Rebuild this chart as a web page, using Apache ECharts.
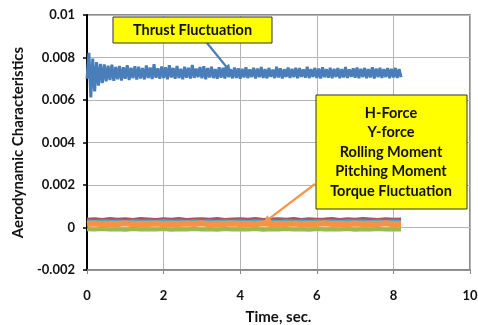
<!DOCTYPE html>
<html>
<head>
<meta charset="utf-8">
<script src="https://cdn.jsdelivr.net/npm/echarts@6/dist/echarts.min.js"></script>
<style>
  html, body { margin: 0; padding: 0; background: #fff; }
  #chart { width: 478px; height: 325px; }
</style>
</head>
<body>
<div id="chart"></div>
<script>
// x ticks / y ticks
const xTicks = [0, 2, 4, 6, 8, 10];
const yTicks = [-0.002, 0, 0.002, 0.004, 0.006, 0.008, 0.01];

const thrustStep = 0.05;
const lowStep = 0.2;

// values, in units of 1e-5
const thrust = [
  700, 822, 612, 795, 640, 778, 668, 770, 680, 768,
  688, 762, 694, 766, 690, 756, 698, 760, 692, 754,
  700, 764, 694, 752, 703, 759, 696, 757, 701, 750,
  697, 763, 704, 753, 699, 768, 705, 749, 700, 758,
  704, 754, 698, 764, 706, 751, 700, 760, 703, 747,
  698, 756, 705, 752, 701, 765, 704, 748, 707, 755,
  702, 759, 698, 750, 706, 757, 703, 746, 700, 754,
  705, 752, 701, 760, 707, 745, 702, 753, 704, 749,
  700, 747, 706, 754, 703, 744, 708, 752, 701, 748,
  707, 755, 704, 746, 702, 751, 709, 743, 703, 757,
  706, 749, 701, 745, 708, 753, 704, 747, 707, 752,
  702, 750, 709, 744, 705, 756, 703, 746, 708, 751,
  704, 748, 701, 754, 707, 745, 705, 752, 702, 747,
  708, 750, 703, 746, 706, 755, 704, 744, 709, 749,
  705, 753, 702, 747, 708, 751, 703, 745, 706, 754,
  701, 748, 707, 752, 704, 746, 708, 750, 702, 747,
  706, 751, 704, 745, 707
];
const hForce = [40, 42, 39, 43, 40, 42, 39, 43, 41, 39, 42, 40, 43, 39, 41, 42, 40, 43, 39, 41, 42,
  40, 43, 39, 41, 42, 40, 43, 39, 42, 40, 41, 43, 39, 42, 40, 43, 41, 39, 42, 40, 41];
const yForce = [-8, -10, -7, -10, -8, -11, -7, -9, -8, -10, -7, -11, -8, -9, -7, -10, -8, -11, -7, -9, -8,
  -10, -7, -11, -8, -9, -7, -10, -8, -11, -7, -9, -8, -10, -7, -11, -8, -9, -7, -10, -8, -9];
const rolling = [35, 37, 34, 36, 35, 37, 34, 36, 35, 37, 34, 36, 35, 37, 34, 36, 35, 37, 34, 36, 35,
  37, 34, 36, 35, 37, 34, 36, 35, 37, 34, 36, 35, 37, 34, 36, 35, 37, 34, 36, 35, 36];
const pitching = [32, 30, 33, 31, 32, 30, 33, 31, 32, 30, 33, 31, 32, 30, 33, 31, 32, 30, 33, 31, 32,
  30, 33, 31, 32, 30, 33, 31, 32, 30, 33, 31, 32, 30, 33, 31, 32, 30, 33, 31, 32, 31];
const torque = [16, 19, 15, 18, 17, 20, 15, 18, 16, 19, 15, 18, 17, 19, 16, 20, 15, 18, 17, 19, 16,
  18, 15, 20, 16, 18, 17, 19, 15, 18, 16, 20, 17, 18, 15, 19, 16, 18, 17, 20, 15, 17];

const font = 'Lato, "Open Sans", sans-serif';

function pairs(vals, step) {
  return vals.map((v, i) => [+(i * step).toFixed(3), v / 100000]);
}

function line(name, vals, step, color, width) {
  return {
    name,
    type: 'line',
    data: pairs(vals, step),
    showSymbol: false,
    symbol: 'none',
    lineStyle: { color, width },
    itemStyle: { color },
    animation: false
  };
}

const chart = echarts.init(document.getElementById('chart'));

chart.setOption({
  backgroundColor: '#fff',
  animation: false,
  grid: {
    left: 87, right: 8, top: 15, bottom: 55,
    outerBoundsMode: 'none',
    show: true, borderColor: '#666', borderWidth: 1.5
  },
  xAxis: {
    type: 'value',
    min: xTicks[0], max: xTicks[xTicks.length - 1], interval: 2,
    name: 'Time, sec.',
    nameLocation: 'middle',
    nameGap: 40,
    nameTextStyle: { fontFamily: font, fontWeight: 'bold', fontSize: 15, color: '#111' },
    axisLine: { show: true, onZero: false, lineStyle: { color: '#888', width: 1.5 } },
    axisTick: { show: true, length: 4, lineStyle: { color: '#888' } },
    axisLabel: { margin: 19, fontFamily: font, fontWeight: 'bold', fontSize: 13, color: '#111' },
    splitLine: { show: true, lineStyle: { color: '#b5b5b5', width: 1 } }
  },
  yAxis: {
    type: 'value',
    min: yTicks[0], max: yTicks[yTicks.length - 1], interval: 0.002,
    name: 'Aerodynamic Characteristics',
    nameLocation: 'middle',
    nameGap: 61,
    nameTextStyle: { fontFamily: font, fontWeight: 'bold', fontSize: 15, color: '#111' },
    axisLine: { show: true, onZero: false, lineStyle: { color: '#000', width: 2 } },
    axisTick: { show: true, length: 4, lineStyle: { color: '#000', width: 1.5 } },
    axisLabel: {
      margin: 12, fontFamily: font, fontWeight: 'bold', fontSize: 13, color: '#111',
      formatter: v => String(+v.toFixed(4))
    },
    splitLine: { show: true, lineStyle: { color: '#b5b5b5', width: 1 } }
  },
  series: [
    line('Thrust Fluctuation', thrust, thrustStep, '#4a7ebb', 3),
    line('H-Force', hForce, lowStep, '#be4b48', 2.5),
    line('Y-force', yForce, lowStep, '#98b954', 4),
    line('Rolling Moment', rolling, lowStep, '#7d60a0', 2.5),
    line('Pitching Moment', pitching, lowStep, '#46aac5', 2.5),
    line('Torque Fluctuation', torque, lowStep, '#f69240', 6)
  ]
});

function arrow(from, to, color) {
  const dx = to[0] - from[0], dy = to[1] - from[1];
  const len = Math.sqrt(dx * dx + dy * dy);
  const ux = dx / len, uy = dy / len;
  const head = 8, half = 4;
  const bx = to[0] - ux * head, by = to[1] - uy * head;
  return [
    { type: 'line', z: 20, shape: { x1: from[0], y1: from[1], x2: bx, y2: by },
      style: { stroke: color, lineWidth: 2.2 } },
    { type: 'polygon', z: 20, shape: { points: [
        to, [bx - uy * half, by + ux * half], [bx + uy * half, by - ux * half]] },
      style: { fill: color } }
  ];
}

const tip1 = chart.convertToPixel({ gridIndex: 0 }, [3.76, 0.0073]);
const tip2 = chart.convertToPixel({ gridIndex: 0 }, [4.6, 0.0002]);

chart.setOption({
  graphic: [
    { type: 'rect', z: 30, shape: { x: 113, y: 17, width: 159, height: 26 },
      style: { fill: '#ffff00', stroke: '#333', lineWidth: 1 } },
    { type: 'text', z: 31, x: 192.5, y: 30,
      style: { text: 'Thrust Fluctuation', fontFamily: font, fontWeight: 'bold', fontSize: 14.5,
        fill: '#111', align: 'center', verticalAlign: 'middle' } },
    { type: 'rect', z: 30, shape: { x: 316, y: 95, width: 151, height: 114 },
      style: { fill: '#ffff00', stroke: '#333', lineWidth: 1 } },
    { type: 'text', z: 31, x: 391, y: 152,
      style: { text: 'H-Force\nY-force\nRolling Moment\nPitching Moment\nTorque Fluctuation',
        fontFamily: font, fontWeight: 'bold', fontSize: 14.5, lineHeight: 19.5,
        fill: '#111', align: 'center', verticalAlign: 'middle' } },
    ...arrow([207, 43], tip1, '#4a7ebb'),
    ...arrow([315, 184], tip2, '#f79646')
  ]
});
</script>
</body>
</html>
